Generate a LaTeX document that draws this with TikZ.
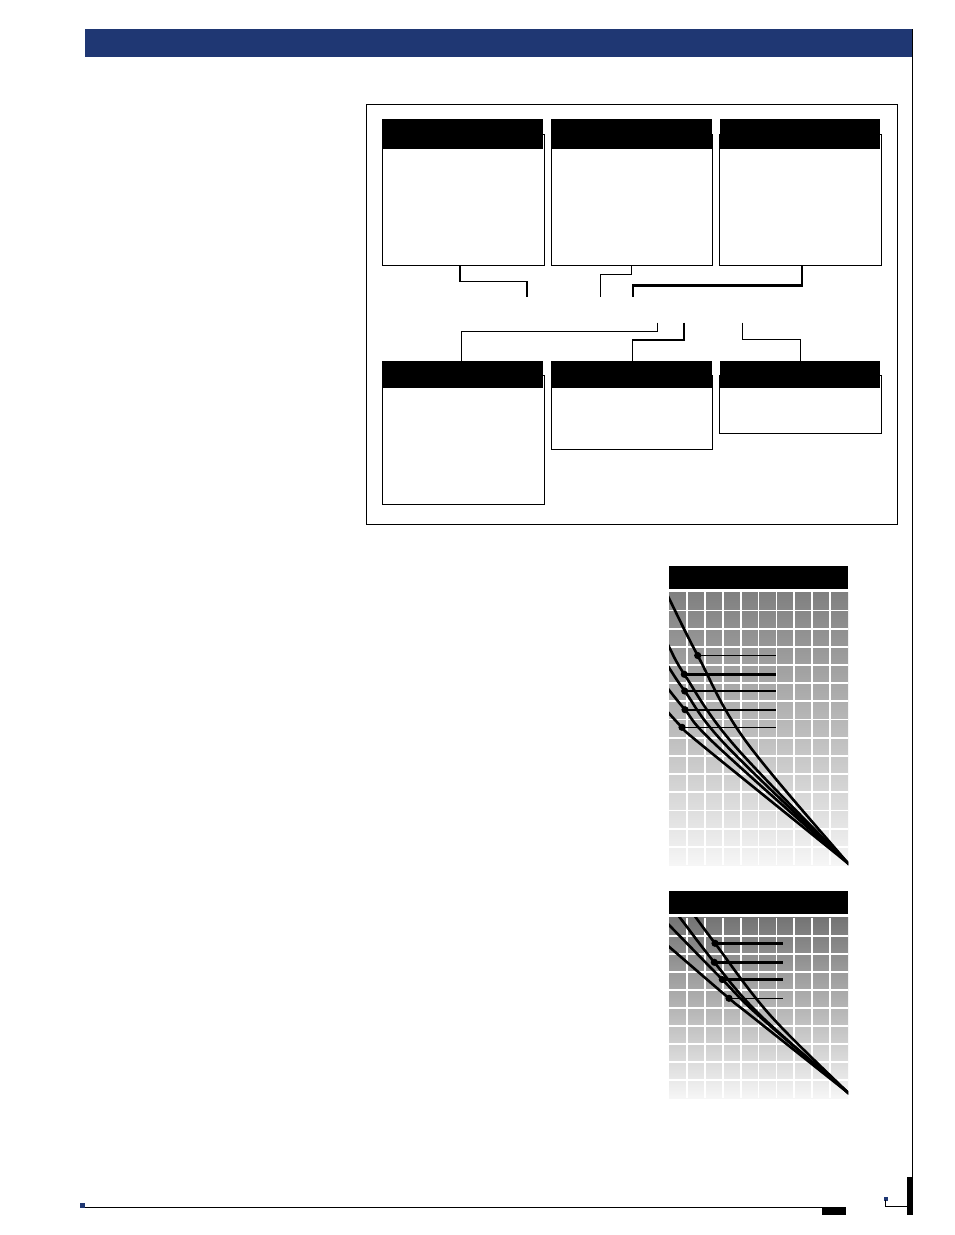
\documentclass[tikz,border=0pt]{standalone}
\usetikzlibrary{calc}
\definecolor{hdrblue}{RGB}{31,55,115}
\definecolor{gtopA}{RGB}{128,128,128}
\definecolor{gbotA}{RGB}{246,246,246}
\definecolor{gtopB}{RGB}{116,116,116}
\definecolor{gbotB}{RGB}{246,246,246}
\begin{document}
\begin{tikzpicture}[x=1pt,y=-1pt,line join=miter,
  boxbody/.style={draw=black,line width=1pt,fill=white,inner sep=0pt,anchor=north west},
  boxhead/.style={fill=black,inner sep=0pt,anchor=north west},
  chhead/.style={fill=black,inner sep=0pt,anchor=north west,minimum width=179pt,minimum height=23pt},
  gridline/.style={white,line width=1.8pt},
  curve/.style={black,line width=2.6pt},
  leaderthin/.style={black,line width=1pt},
  leaderthick/.style={black,line width=2.4pt},
  dotmark/.style={black}]
\useasboundingbox (0,0) rectangle (954,1235);
\fill[white] (0,0) rectangle (954,1235);

% page furniture
\fill[hdrblue] (85,29) rectangle (912,57);
\draw[line width=1pt] (912.5,29) -- (912.5,1177);
\fill[black] (907,1177) rectangle (913,1215);
\draw[line width=1pt] (80,1207.5) -- (822,1207.5);
\fill[hdrblue] (80,1203) rectangle (84.5,1207.5);
\fill[black] (822,1207) rectangle (846,1215);
\fill[hdrblue] (884,1197) rectangle (887.5,1200.5);
\draw[line width=0.9pt] (885.7,1200) |- (907,1206.8);

% frame
\node[draw,line width=1pt,inner sep=0pt,anchor=north west,minimum width=531.5pt,minimum height=420pt] (frame) at (365.5,103.5) {};

% top boxes
\node[boxbody,minimum width=162pt,minimum height=131pt] (b1) at (381.5,134) {};
\node[boxhead,minimum width=161pt,minimum height=29.3pt] (h1) at (382,119) {};
\node[boxbody,minimum width=161.5pt,minimum height=131pt] (b2) at (550.5,134) {};
\node[boxhead,minimum width=160.5pt,minimum height=29.3pt] (h2) at (551,119) {};
\node[boxbody,minimum width=161.5pt,minimum height=131pt] (b3) at (719,134) {};
\node[boxhead,minimum width=160.5pt,minimum height=29.3pt] (h3) at (719.5,119) {};

% bottom boxes
\node[boxbody,minimum width=162pt,minimum height=129.3pt] (b4) at (381.5,375) {};
\node[boxhead,minimum width=161pt,minimum height=26.7pt] (h4) at (382,361) {};
\node[boxbody,minimum width=161.5pt,minimum height=74.3pt] (b5) at (550.5,375) {};
\node[boxhead,minimum width=160.5pt,minimum height=26.7pt] (h5) at (551,361) {};
\node[boxbody,minimum width=161.5pt,minimum height=58.3pt] (b6) at (719,375) {};
\node[boxhead,minimum width=160.5pt,minimum height=26.7pt] (h6) at (719.5,361) {};

% connectors from top boxes
\coordinate (e1) at (527.2,296.7);
\coordinate (e2) at (600.2,296.7);
\coordinate (e3) at (633,296.7);
\draw[line width=1.7pt] ($(b1.south)+(-3,0)$) -- ++(0,15.5) -| (e1);
\draw[line width=1.4pt] (b2.south) -- ++(0,8.3) -| (e2);
\draw[line width=2.4pt] ($(b3.south)+(1.8,0)$) -- ++(0,19.3) -| (e3);

% connectors to bottom boxes
\coordinate (f1) at (657.2,322.7);
\coordinate (f2) at (684.1,322.7);
\coordinate (f3) at (742.5,322.7);
\draw[line width=1pt] (f1) -- ++(0,8.3) -| ($(h4.north)+(-1,0)$);
\draw[line width=2pt] (f2) -- (684.1,340.6) coordinate (f2b);
\draw[line width=1.2pt] (685.1,340) -| ($(h5.north)+(1,0)$);
\draw[line width=1pt] (f3) -- ++(0,16.6) -| ($(h6.north)+(1,0)$);

% chart 1
\node[chhead] (ch1) at (669,566) {};
\shade[top color=gtopA,bottom color=gbotA] (669,592.3) rectangle (848,865);
\foreach \i in {1,...,9} \draw[gridline] ({669+17.9*\i},592.3) -- ({669+17.9*\i},865);
\foreach \j in {1,...,14} \draw[gridline] (669,{592.3+18.18*\j}) -- (848,{592.3+18.18*\j});
\begin{scope}
\clip (669,592.3) rectangle (848,865);
\draw[curve] plot[smooth,tension=0.6] coordinates {(664,588.3) (669,598.3) (697.7,655.5) (745,740) (848,863.3) (852,867.5)};
\draw[curve] plot[smooth,tension=0.6] coordinates {(664,637.7) (669,646.7) (684.3,674.3) (734,745) (848,863.3) (852,867.3)};
\draw[curve] plot[smooth,tension=0.6] coordinates {(664,660.3) (669,667.7) (684.7,691) (725.7,745) (848,863.3) (852,867.1)};
\draw[curve] plot[smooth,tension=0.6] coordinates {(664,683.8) (669,690) (685,709.7) (716,745) (848,863.3) (852,866.9)};
\draw[curve] plot[smooth,tension=0.6] coordinates {(664,707.8) (669,713.3) (682,727.3) (701.7,745) (848,863.3) (852,866.5)};
\end{scope}
\draw[leaderthin] (697.7,655.5) -- (775.7,655.5);
\draw[leaderthick] (684.3,674.3) -- (775.7,674.3);
\draw[leaderthick] (684.7,691) -- (775.7,691);
\draw[leaderthick] (685,709.7) -- (775.7,709.7);
\draw[leaderthin] (682,727.3) -- (775.7,727.3);
\foreach \p in {(697.7,655.5),(684.3,674.3),(684.7,691),(685,709.7),(682,727.3)} \fill[dotmark] \p circle[radius=3.6];

% chart 2
\node[chhead] (ch2) at (669,891) {};
\shade[top color=gtopB,bottom color=gbotB] (669,917.7) rectangle (848,1098);
\foreach \i in {1,...,9} \draw[gridline] ({669+17.9*\i},917.7) -- ({669+17.9*\i},1098);
\foreach \j in {1,...,9} \draw[gridline] (669,{917.7+18.03*\j}) -- (848,{917.7+18.03*\j});
\begin{scope}
\clip (669,917.7) rectangle (848,1098);
\draw[curve] plot[smooth,tension=0.6] coordinates {(693,913.65) (696,917.7) (715,943.3) (770,1015) (848,1092.7) (852,1096.7)};
\draw[curve] plot[smooth,tension=0.6] coordinates {(677,913.8) (680,917.7) (714.3,962.3) (760,1015) (848,1092.7) (852,1096.2)};
\draw[curve] plot[smooth,tension=0.6] coordinates {(664,920) (669,925) (722.3,979.5) (758,1015) (848,1092.7) (852,1096.1)};
\draw[curve] plot[smooth,tension=0.6] coordinates {(664,942.4) (669,946.7) (729,998.3) (750,1015) (848,1092.7) (852,1095.9)};
\end{scope}
\draw[leaderthick] (715,943.3) -- (782.7,943.3);
\draw[leaderthick] (714.3,962.3) -- (782.7,962.3);
\draw[leaderthick] (722.3,979.5) -- (782.7,979.5);
\draw[leaderthin] (729,998.3) -- (782.7,998.3);
\foreach \p in {(715,943.3),(714.3,962.3),(722.3,979.5),(729,998.3)} \fill[dotmark] \p circle[radius=3.6];
\end{tikzpicture}
\end{document}
